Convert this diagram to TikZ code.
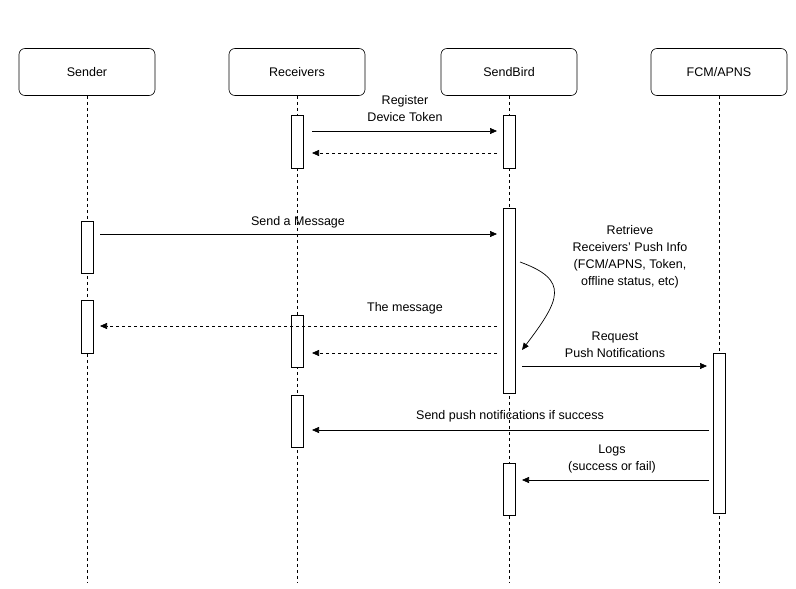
\documentclass[tikz,border=0pt]{standalone}
\usepackage{fontspec}
\setmainfont{Liberation Sans}
\usetikzlibrary{arrows.meta}
\usetikzlibrary{positioning}

\begin{document}
\begin{tikzpicture}[x=1pt,y=-1pt,>={Triangle[length=7pt,width=6pt]},
    font=\fontsize{12.5}{17}\selectfont,
    head node/.style={draw,rounded corners=6pt,minimum width=136pt,minimum height=47pt,line width=0.6pt},
    life line/.style={dash pattern=on 3pt off 3pt,line width=0.5pt},
    act box/.style={draw,fill=white,line width=0.6pt},
    msg/.style={->,line width=0.7pt},
    reply/.style={->,line width=0.7pt,dash pattern=on 3pt off 3pt},
    lbl/.style={align=center,inner sep=1pt}]
  \useasboundingbox (0,0) rectangle (796,589);
  % heads and life lines
  \foreach \nm/\x/\txt in {snd/87/Sender,rcv/297/Receivers,sb/509/SendBird,fcm/719/FCM\slash APNS} {
    \node[head node] (\nm) at (\x,72) {\txt};
    \coordinate (\nm end) at (\x,582);
    \draw[life line] (\nm) -- (\nm end);
  }
  % activation boxes
  \draw[act box] (291,115) rectangle (303,168);
  \draw[act box] (503,115) rectangle (515,168);
  \draw[act box] (503,208) rectangle (515,393);
  \draw[act box] (81,221) rectangle (93,273);
  \draw[act box] (81,300) rectangle (93,353);
  \draw[act box] (291,315) rectangle (303,367);
  \draw[act box] (291,395) rectangle (303,447);
  \draw[act box] (713,353) rectangle (725,513);
  \draw[act box] (503,463) rectangle (515,515);
  % messages
  \coordinate (a1) at (312,131); \coordinate (b1) at (497,131);
  \draw[msg] (a1) -- (b1);
  \node[lbl] at (405,109) {Register\\Device Token};
  \coordinate (a2) at (497,153); \coordinate (b2) at (312,153);
  \draw[reply] (a2) -- (b2);
  \coordinate (a3) at (100,234); \coordinate (b3) at (497,234);
  \draw[msg] (a3) -- (b3);
  \node[lbl] at (298,222) {Send a Message};
  \coordinate (a4) at (497,326); \coordinate (b4) at (100,326);
  \draw[reply] (a4) -- (b4);
  \node[lbl] at (405,308) {The message};
  \coordinate (a5) at (497,353); \coordinate (b5) at (312,353);
  \draw[reply] (a5) -- (b5);
  \coordinate (a6) at (520,262); \coordinate (b6) at (522,350);
  \draw[msg] (a6) .. controls (570,280) and (560,300) .. (b6);
  \node[lbl] at (630,257) {Retrieve\\Receivers' Push Info\\(FCM/APNS, Token,\\offline status, etc)};
  \coordinate (a7) at (522,366); \coordinate (b7) at (707,366);
  \draw[msg] (a7) -- (b7);
  \node[lbl] at (615,345) {Request\\Push Notifications};
  \coordinate (a8) at (709,430); \coordinate (b8) at (312,430);
  \draw[msg] (a8) -- (b8);
  \node[lbl] at (510,416) {Send push notifications if success};
  \coordinate (a9) at (709,480); \coordinate (b9) at (522,480);
  \draw[msg] (a9) -- (b9);
  \node[lbl] at (612,459) {Logs\\(success or fail)};
\end{tikzpicture}
\end{document}
